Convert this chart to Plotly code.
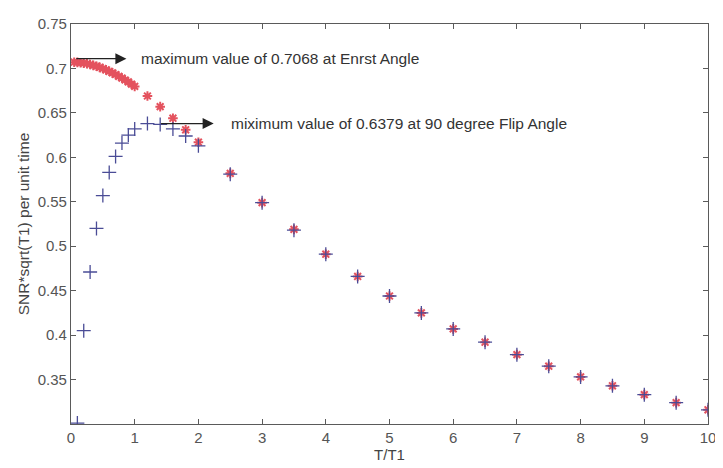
import plotly.graph_objects as go

# T/T1 sample points and SNR*sqrt(T1) per unit time
t_ernst = [0.05, 0.1, 0.15, 0.2, 0.25, 0.3, 0.35, 0.4, 0.45, 0.5,
           0.55, 0.6, 0.65, 0.7, 0.75, 0.8, 0.85, 0.9, 0.95, 1.0,
           1.2, 1.4, 1.6, 1.8, 2.0, 2.5, 3.0, 3.5, 4.0, 4.5, 5.0,
           5.5, 6.0, 6.5, 7.0, 7.5, 8.0, 8.5, 9.0, 9.5, 10.0]
snr_ernst = [0.707, 0.7068, 0.7064, 0.7059, 0.7053, 0.7045, 0.7035, 0.7025, 0.7012, 0.6999,
             0.6984, 0.6968, 0.6950, 0.6932, 0.6912, 0.6892, 0.6870, 0.6848, 0.6823, 0.6798,
             0.669, 0.657, 0.644, 0.631, 0.617, 0.582, 0.549, 0.519, 0.491, 0.466, 0.444,
             0.425, 0.407, 0.392, 0.378, 0.365, 0.353, 0.343, 0.333, 0.324, 0.316]

t_90 = [0.1, 0.2, 0.3, 0.4, 0.5, 0.6, 0.7, 0.8, 0.9, 1.0,
        1.2, 1.4, 1.6, 1.8, 2.0, 2.5, 3.0, 3.5, 4.0, 4.5, 5.0,
        5.5, 6.0, 6.5, 7.0, 7.5, 8.0, 8.5, 9.0, 9.5, 10.0]
snr_90 = [0.301, 0.405, 0.471, 0.520, 0.557, 0.583, 0.601, 0.616, 0.625, 0.632,
          0.638, 0.637, 0.632, 0.624, 0.613, 0.581, 0.549, 0.518, 0.491, 0.466, 0.444,
          0.425, 0.407, 0.392, 0.378, 0.365, 0.353, 0.343, 0.333, 0.324, 0.316]

x_ticks = list(range(0, 11))
y_ticks = [0.35, 0.4, 0.45, 0.5, 0.55, 0.6, 0.65, 0.7, 0.75]
y_tick_text = ["0.35", "0.4", "0.45", "0.5", "0.55", "0.6", "0.65", "0.7", "0.75"]

axis_grey = "#5a5a5a"
font = "Liberation Sans, Arial, sans-serif"
red = "#e4525e"
blue = "#4a4c96"

fig = go.Figure()
fig.add_trace(go.Scatter(
    x=t_ernst, y=snr_ernst, mode="markers", name="Ernst angle",
    marker=dict(symbol="asterisk-open", size=8, color=red, line=dict(color=red, width=2)),
))
fig.add_trace(go.Scatter(
    x=t_90, y=snr_90, mode="markers", name="90 degree",
    marker=dict(symbol="cross-thin-open", size=10, color=blue, line=dict(color=blue, width=1.3)),
))

# arrows with their notes
arrow = dict(xref="x", yref="y", axref="x", ayref="y", showarrow=True,
             arrowhead=2, arrowsize=1.7, arrowwidth=1.3, arrowcolor="#222", text="")
fig.add_annotation(x=0.87, y=0.711, ax=0.06, ay=0.711, **arrow)
fig.add_annotation(x=2.24, y=0.638, ax=1.39, ay=0.638, **arrow)
fig.add_annotation(x=1.075, y=0.711, text="maximum value of 0.7068 at Enrst Angle",
                   showarrow=False, xanchor="left", font=dict(size=15.5, color="#333"))
fig.add_annotation(x=2.48, y=0.638, text="miximum value of 0.6379 at 90 degree Flip Angle",
                   showarrow=False, xanchor="left", font=dict(size=15.5, color="#333"))

axis_style = dict(
    showline=True, linecolor=axis_grey, linewidth=1.3, mirror="ticks",
    ticks="inside", ticklen=5, tickcolor=axis_grey, tickwidth=1.3,
    showgrid=False, zeroline=False, ticklabeloverflow="allow",
    tickfont=dict(size=15, color="#555"),
)
fig.update_xaxes(range=[0, 10], tickvals=x_ticks,
                 title=dict(text="T/T1", font=dict(size=15, color="#444"), standoff=2),
                 **axis_style)
fig.update_yaxes(range=[0.3, 0.75], tickvals=y_ticks, ticktext=y_tick_text,
                 title=dict(text="SNR*sqrt(T1) per unit time", font=dict(size=15.5, color="#444"), standoff=4),
                 **axis_style)

# the page adds an 8px body margin, so shrink the figure by that much
fig.update_layout(
    width=715, height=460,
    margin=dict(l=63, r=10, t=7, b=44),
    paper_bgcolor="white", plot_bgcolor="white",
    font=dict(family=font),
    showlegend=False,
)

fig.write_html("out.html")
